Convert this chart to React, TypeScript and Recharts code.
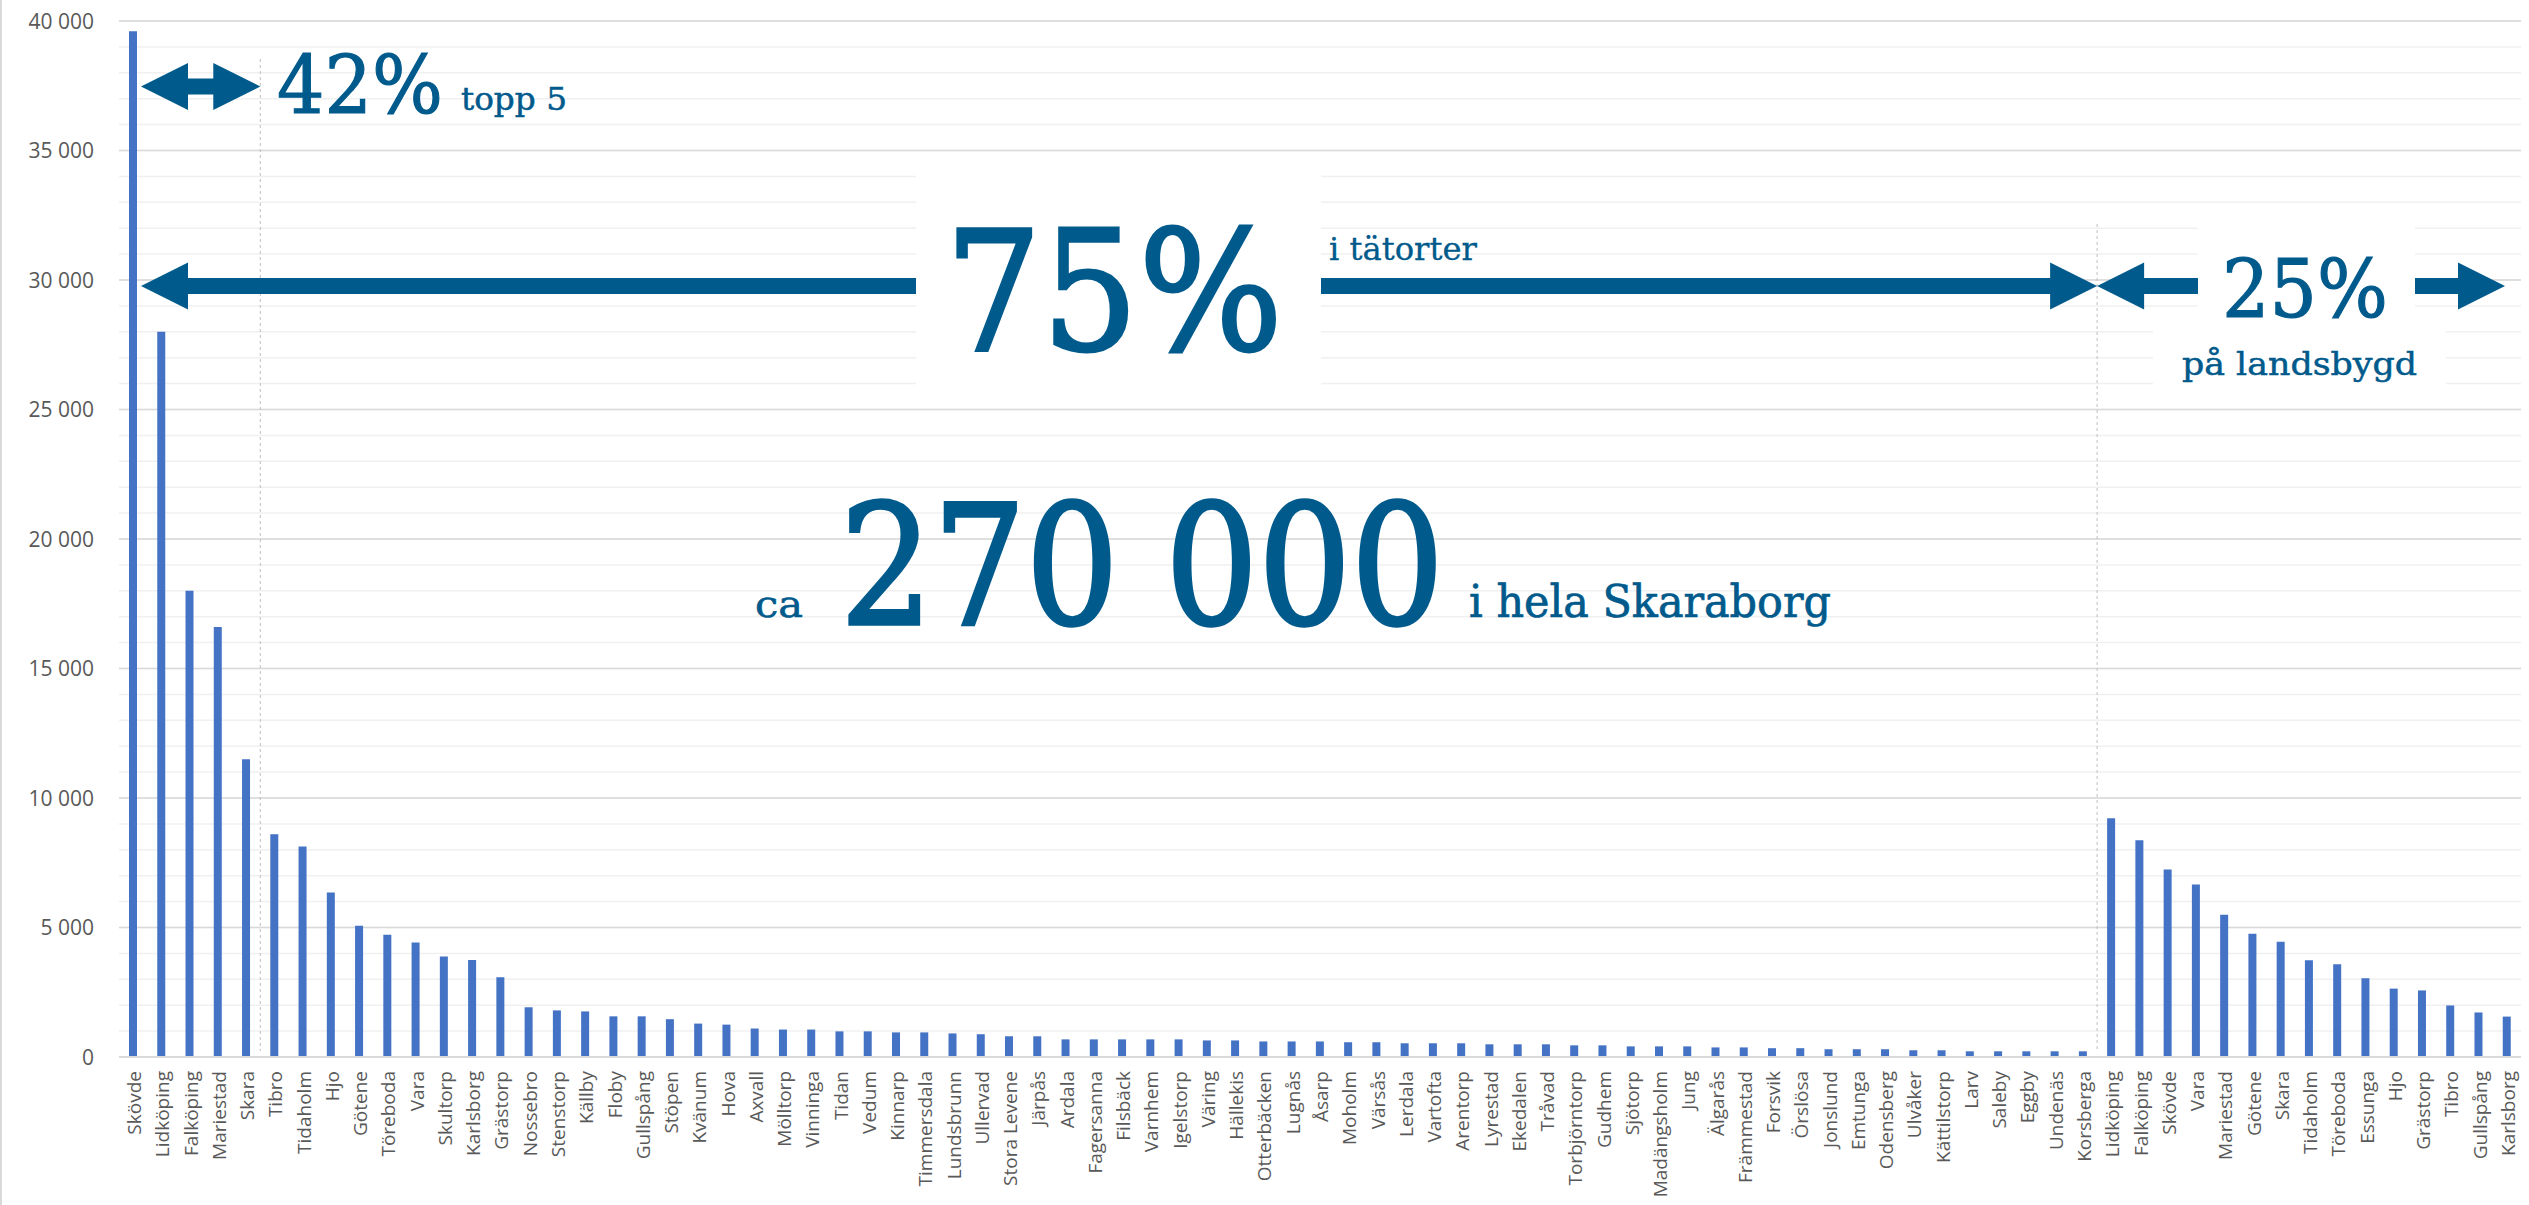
import React from "react";
import { BarChart, Bar, XAxis, YAxis, CartesianGrid } from "recharts";

// tätorter (urban areas), sorted by size
const urbanNames = [
  "Skövde", "Lidköping", "Falköping", "Mariestad", "Skara", "Tibro", "Tidaholm", "Hjo", "Götene", "Töreboda",
  "Vara", "Skultorp", "Karlsborg", "Grästorp", "Nossebro", "Stenstorp", "Källby", "Floby", "Gullspång", "Stöpen",
  "Kvänum", "Hova", "Axvall", "Mölltorp", "Vinninga", "Tidan", "Vedum", "Kinnarp", "Timmersdala", "Lundsbrunn",
  "Ullervad", "Stora Levene", "Järpås", "Ardala", "Fagersanna", "Filsbäck", "Varnhem", "Igelstorp", "Väring", "Hällekis",
  "Otterbäcken", "Lugnås", "Åsarp", "Moholm", "Värsås", "Lerdala", "Vartofta", "Arentorp", "Lyrestad", "Ekedalen",
  "Tråvad", "Torbjörntorp", "Gudhem", "Sjötorp", "Madängsholm", "Jung", "Älgarås", "Främmestad", "Forsvik", "Örslösa",
  "Jonslund", "Emtunga", "Odensberg", "Ulvåker", "Kättilstorp", "Larv", "Saleby", "Eggby", "Undenäs", "Korsberga",
];
const urbanValues = [
  39600, 28000, 18000, 16600, 11500, 8600, 8130, 6350, 5070, 4720,
  4420, 3880, 3750, 3080, 1920, 1800, 1760, 1570, 1570, 1460,
  1290, 1250, 1100, 1060, 1060, 990, 990, 950, 950, 910,
  880, 800, 800, 680, 680, 680, 680, 680, 640, 640,
  600, 600, 600, 570, 570, 530, 530, 530, 490, 490,
  490, 450, 450, 410, 410, 410, 370, 370, 340, 340,
  300, 300, 300, 260, 260, 220, 220, 220, 220, 220,
];

// landsbygd (rural) per kommun
const ruralNames = [
  "Lidköping", "Falköping", "Skövde", "Vara", "Mariestad", "Götene", "Skara", "Tidaholm",
  "Töreboda", "Essunga", "Hjo", "Grästorp", "Tibro", "Gullspång", "Karlsborg",
];
const ruralValues = [9220, 8370, 7240, 6660, 5490, 4760, 4450, 3740, 3580, 3040, 2640, 2570, 1990, 1720, 1560];

const yTicks = [0, 5000, 10000, 15000, 20000, 25000, 30000, 35000, 40000];
const minorTicks = Array.from({ length: 41 }, (_, i) => i * 1000);

const data = [
  ...urbanNames.map((name, i) => ({ name, value: urbanValues[i] })),
  ...ruralNames.map((name, i) => ({ name, value: ruralValues[i] })),
];

const W = 2529;
const H = 1205;
const PLOT_LEFT = 119;
const PLOT_RIGHT = 2521;
const PLOT_TOP = 21;
const PLOT_BOTTOM = 1057;
const step = (PLOT_RIGHT - PLOT_LEFT) / data.length;
const edge = (k: number) => PLOT_LEFT + k * step; // boundary before category k

const BLUE = "#005a8c";
const SERIF = "'DejaVu Serif', serif";

const fmt = (v: number) => String(v).replace(/\B(?=(\d{3})+(?!\d))/g, " ");

const XTick = (props: any) => {
  const { x, y, payload } = props;
  return (
    <text
      transform={`translate(${x + 8},${y + 14}) rotate(-90)`}
      textAnchor="end"
      fill="#595959"
      fontSize={19}
      fontFamily="'Open Sans', sans-serif"
    >
      {payload.value}
    </text>
  );
};

const YTick = (props: any) => {
  const { x, y, payload } = props;
  return (
    <text x={x} y={y} dy={7.5} textAnchor="end" fill="#595959" fontSize={21} fontFamily="'Open Sans', sans-serif">
      {fmt(payload.value)}
    </text>
  );
};

// slab-ish annotation text, squeezed to the width measured on the reference
const Label = ({ x, y, size, width, weight = 0, children }: any) => (
  <text
    x={x}
    y={y}
    fill={BLUE}
    stroke={BLUE}
    strokeWidth={weight}
    fontFamily={SERIF}
    fontSize={size}
    textLength={width}
    lengthAdjust="spacingAndGlyphs"
  >
    {children}
  </text>
);

// horizontal arrow with one or two heads
function arrow(x1: number, x2: number, y: number, headL: boolean, headR: boolean) {
  const hl = 47, hh = 23.5, sh = 8;
  const a = headL ? x1 + hl : x1;
  const b = headR ? x2 - hl : x2;
  const pts: [number, number][] = [];
  if (headL) pts.push([x1, y], [a, y - hh], [a, y - sh]);
  else pts.push([x1, y - sh]);
  if (headR) pts.push([b, y - sh], [b, y - hh], [x2, y], [b, y + hh], [b, y + sh]);
  else pts.push([x2, y - sh], [x2, y + sh]);
  if (headL) pts.push([a, y + sh], [a, y + hh]);
  else pts.push([x1, y + sh]);
  return <polygon points={pts.map((p) => p.join(",")).join(" ")} fill={BLUE} />;
}

function Overlay() {
  const sepTop = edge(5);
  const sepRural = edge(urbanNames.length);
  const yA = 286;
  return (
    <svg width={W} height={H} style={{ position: "absolute", left: 0, top: 0, pointerEvents: "none" }}>
      <line x1={1} y1={0} x2={1} y2={H} stroke="#d9d9d9" strokeWidth={2} />
      <line x1={sepTop} y1={59} x2={sepTop} y2={PLOT_BOTTOM - 6} stroke="#bfbfbf" strokeDasharray="3 3" />
      <line x1={sepRural} y1={224} x2={sepRural} y2={PLOT_BOTTOM - 6} stroke="#bfbfbf" strokeDasharray="3 3" />

      {/* 42 % topp 5 */}
      {arrow(edge(0) + 22, sepTop, 86.5, true, true)}
      <Label x={277} y={113} size={80} width={166} weight={1.2}>42%</Label>
      <Label x={461} y={110} size={31} width={106} weight={0.5}>topp 5</Label>

      {/* 75 % i tätorter */}
      {arrow(edge(0) + 22, sepRural, yA, true, true)}
      <rect x={916} y={162} width={405} height={226} fill="#fff" />
      <Label x={945} y={350} size={166} width={338} weight={3}>75%</Label>
      <Label x={1329} y={260} size={31} width={148} weight={0.3}>i tätorter</Label>

      {/* 25 % på landsbygd */}
      {arrow(sepRural, 2198, yA, true, false)}
      {arrow(2415, 2505, yA, false, true)}
      <rect x={2198} y={215} width={217} height={110} fill="#fff" />
      <rect x={2153} y={322} width={293} height={72} fill="#fff" />
      <Label x={2222} y={317} size={80} width={166} weight={1.2}>25%</Label>
      <Label x={2182} y={375} size={32} width={235} weight={0.5}>på landsbygd</Label>

      {/* ca 270 000 i hela Skaraborg */}
      <Label x={755} y={617} size={38} width={48} weight={0.6}>ca</Label>
      <Label x={840} y={624} size={166} width={604} weight={3.5}>270 000</Label>
      <Label x={1469} y={617} size={45} width={362} weight={0.7}>i hela Skaraborg</Label>
    </svg>
  );
}

export default function App() {
  return (
    <div style={{ position: "absolute", left: 0, top: 0, width: W, height: H, background: "#fff" }}>
      <BarChart width={W} height={H} data={data} margin={{ top: PLOT_TOP, right: W - PLOT_RIGHT, bottom: 0, left: 0 }}>
        <CartesianGrid vertical={false} horizontalValues={minorTicks} stroke="#f0f0f0" strokeWidth={1.5} />
        <CartesianGrid vertical={false} horizontalValues={yTicks} stroke="#d9d9d9" strokeWidth={1.5} />
        <XAxis
          dataKey="name"
          interval={0}
          height={H - PLOT_BOTTOM}
          tickLine={false}
          tickSize={0}
          tickMargin={0}
          axisLine={{ stroke: "#d9d9d9", strokeWidth: 2 }}
          tick={<XTick />}
        />
        <YAxis
          width={PLOT_LEFT}
          domain={[0, 40000]}
          ticks={yTicks}
          interval={0}
          axisLine={false}
          tickLine={false}
          tickSize={0}
          tickMargin={25}
          tick={<YTick />}
        />
        <Bar dataKey="value" fill="#4472c4" barSize={8} isAnimationActive={false} />
      </BarChart>
      <Overlay />
    </div>
  );
}
